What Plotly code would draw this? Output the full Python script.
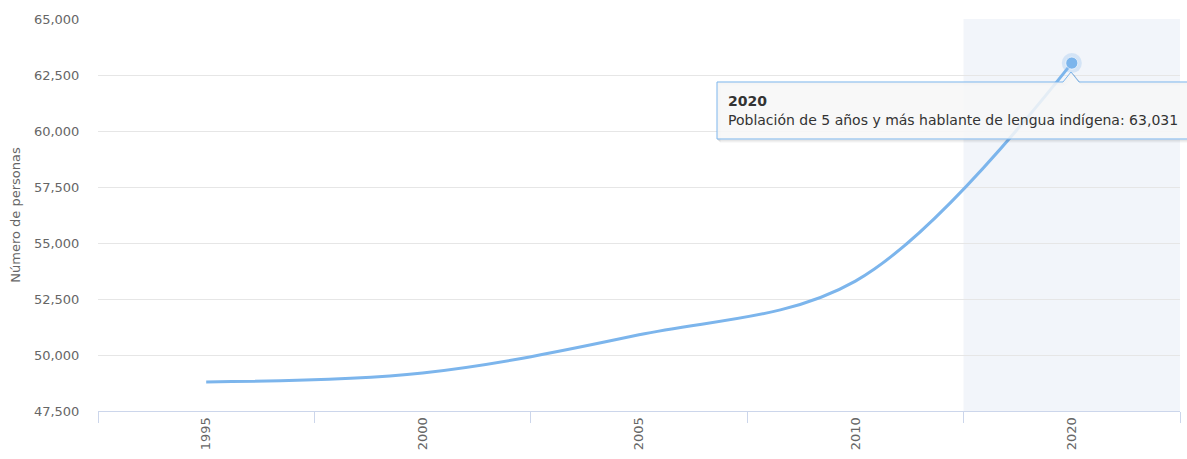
import plotly.graph_objects as go

# Data: population aged 5+ speaking an indigenous language
years = ["1995", "2000", "2005", "2010", "2020"]
speakers = [48800, 49200, 50900, 53300, 63031]
series_name = "Población de 5 años y más hablante de lengua indígena"
y_ticks = [47500, 50000, 52500, 55000, 57500, 60000, 62500, 65000]

LINE = "#7cb5ec"
FONT = "DejaVu Sans"
W, H = 1187, 459
ML, MR, MT, MB = 98, 7, 19, 48
PW, PH = W - ML - MR, H - MT - MB

hi = len(years) - 1  # highlighted category (last one)


def px(x):
    return (x - ML) / PW


def py(y):
    return (H - MB - y) / PH


fig = go.Figure()

fig.add_trace(go.Scatter(
    x=years, y=speakers, mode="lines",
    line=dict(color=LINE, width=3, shape="spline", smoothing=1.0),
    hoverinfo="skip", showlegend=False,
))

# hover halo + marker on the highlighted point
fig.add_trace(go.Scatter(
    x=[years[hi]], y=[speakers[hi]], mode="markers",
    marker=dict(color=LINE, size=20, opacity=0.25, line=dict(width=0)),
    hoverinfo="skip", showlegend=False,
))
fig.add_trace(go.Scatter(
    x=[years[hi]], y=[speakers[hi]], mode="markers",
    marker=dict(color=LINE, size=12, line=dict(width=1, color="rgba(255,255,255,0.6)")),
    hoverinfo="skip", showlegend=False,
))

shapes = [
    # crosshair band over the highlighted category
    dict(type="rect", xref="x", yref="paper", x0=hi - 0.5, x1=hi + 0.5, y0=0, y1=1,
         fillcolor="rgba(204,214,235,0.25)", line=dict(width=0), layer="below"),
]

# tooltip box with a caret pointing up at the point
bx0, bx1, by0, by1 = 717, 1200, 82, 139
cx0, cx1, ctip, cy = 1063, 1079, 1071, 72


def tooltip_path(dx=0, dy=0):
    pts = [(bx0, by0), (cx0, by0), (ctip, cy), (cx1, by0), (bx1, by0), (bx1, by1), (bx0, by1)]
    return "M " + " L ".join(f"{px(x + dx):.5f},{py(y + dy):.5f}" for x, y in pts) + " Z"


for off, alpha in [(3, 0.05), (2, 0.08), (1, 0.12)]:
    shapes.append(dict(type="path", xref="paper", yref="paper", path=tooltip_path(off, off),
                       fillcolor="rgba(0,0,0,0)", line=dict(color=f"rgba(0,0,0,{alpha})", width=1),
                       layer="above"))
shapes.append(dict(type="path", xref="paper", yref="paper", path=tooltip_path(),
                   fillcolor="rgba(247,247,247,0.85)", line=dict(color=LINE, width=1),
                   layer="above"))

annotations = [
    dict(xref="paper", yref="paper", x=px(726), y=py(101), xanchor="left", yanchor="middle",
         text=f"<b>{years[hi]}</b>", showarrow=False,
         font=dict(family=FONT, size=14, color="#333333")),
    dict(xref="paper", yref="paper", x=px(726), y=py(120), xanchor="left", yanchor="middle",
         text=f"{series_name}: {speakers[hi]:,}", showarrow=False,
         font=dict(family=FONT, size=14, color="#333333")),
]

fig.update_layout(
    width=W, height=H,
    margin=dict(l=ML, r=MR, t=MT, b=MB, pad=0),
    paper_bgcolor="white", plot_bgcolor="white",
    hovermode=False,
    font=dict(family=FONT, color="#666666", size=13),
    shapes=shapes, annotations=annotations,
    xaxis=dict(
        type="category", categoryorder="array", categoryarray=years,
        range=[-0.5, len(years) - 0.5],
        tickson="boundaries", ticks="outside", ticklen=11, tickcolor="#ccd6eb", tickwidth=1,
        showline=True, linecolor="#ccd6eb", linewidth=1,
        showgrid=False, zeroline=False, tickangle=-90,
        tickfont=dict(family=FONT, size=13, color="#666666"),
    ),
    yaxis=dict(
        range=[y_ticks[0], y_ticks[-1]], tickvals=y_ticks, tickformat=",",
        showgrid=True, gridcolor="#e6e6e6", gridwidth=1,
        showline=False, zeroline=False,
        ticks="outside", ticklen=15, tickcolor="rgba(0,0,0,0)",
        tickfont=dict(family=FONT, size=13, color="#666666"),
        title=dict(text="Número de personas", standoff=10,
                   font=dict(family=FONT, size=13, color="#666666")),
    ),
)

fig.write_html("out.html")
